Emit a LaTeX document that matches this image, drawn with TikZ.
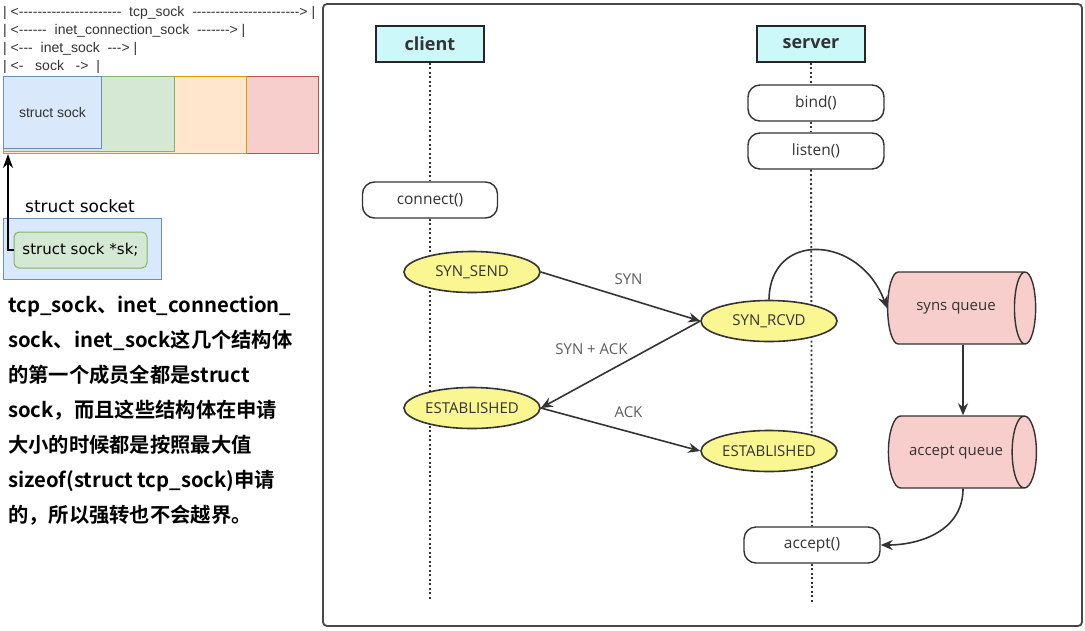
\documentclass[tikz,border=0pt]{standalone}
\usepackage{fontspec}
\setmainfont{Open Sans}
\newfontfamily\cjk{Noto Sans CJK SC}[BoldFont={Noto Sans CJK SC Bold}]
\newfontfamily\arialfont{Liberation Sans}[Ligatures=TeXOff]
\newfontfamily\handfont{DejaVu Sans}
\usepackage{tikz}
\usetikzlibrary{shapes.geometric,arrows.meta,positioning}
\definecolor{mycyan}{RGB}{204,248,250}
\definecolor{myyellow}{RGB}{250,246,145}
\definecolor{mypink}{RGB}{248,206,204}
\definecolor{myredline}{RGB}{184,84,80}
\definecolor{myblue}{RGB}{218,232,252}
\definecolor{myblueline}{RGB}{108,142,191}
\definecolor{mygreen}{RGB}{213,232,212}
\definecolor{mygreenline}{RGB}{130,179,102}
\definecolor{myorange}{RGB}{255,230,204}
\definecolor{myorangeline}{RGB}{215,155,0}
\definecolor{myink}{RGB}{51,51,51}
\tikzstyle{state}=[draw=myink,fill=myyellow,ellipse,line width=1.6pt,minimum width=136pt,minimum height=41pt,inner sep=0pt,text=myink,font=\fontsize{15}{17}\selectfont]
\tikzstyle{call}=[draw=myink,fill=white,rectangle,rounded corners=12pt,line width=1.4pt,minimum width=136pt,minimum height=36pt,inner sep=0pt,text=myink,font=\fontsize{15.5}{17}\selectfont]

\begin{document}
\begin{tikzpicture}[
  x=1pt, y=1pt,
  role/.style={draw=black!85,fill=mycyan,line width=1.6pt,minimum width=108pt,minimum height=36pt,inner sep=0pt,font=\bfseries\fontsize{18}{20}\selectfont,text=myink},
  queue/.style={draw=myink,fill=mypink,cylinder,shape border rotate=0,aspect=1.8,minimum width=72pt,minimum height=148pt,line width=1.4pt,inner sep=0pt,text=myink,font=\fontsize{15}{17}\selectfont},
  lifeline/.style={draw=myink,line width=1.9pt,dash pattern=on 1.9pt off 2.6pt},
  flow/.style={draw=myink,line width=1.6pt,-{Stealth[length=12pt,width=10pt]}},
  msg/.style={text=myink!80,font=\fontsize{15}{17}\selectfont},
  hdr/.style={anchor=west,inner sep=0pt,text=myink,font=\arialfont\fontsize{14}{15}\selectfont},
  blk/.style={anchor=north west,inner sep=0pt,line width=1pt,minimum height=77pt}
]
\useasboundingbox (0,0) rectangle (1085,-630);

% sock layout
\node [hdr] (tcpline) at (3,-13) {|\ <----------------------\ \ tcp\_sock\ \ ----------------------->\ |};
\node [hdr] (iconnline) at (3,-31) {|\ <------\ \ inet\_connection\_sock\ \ ------->\ |};
\node [hdr] (inetline) at (3,-49) {|\ <---\ \ inet\_sock\ \ --->\ |};
\node [hdr] (sockline) at (3,-67) {|\ <-\ \ \ sock\ \ \ ->\ \ |};

\node [blk, draw=myredline, fill=mypink, minimum width=315pt] (tcpblk) at (3,-76) {};
\node [blk, draw=myorangeline, fill=myorange, minimum width=243pt] (iconnblk) at (3,-76) {};
\node [blk, draw=mygreenline, fill=mygreen, minimum width=171pt, minimum height=75pt] (inetblk) at (3,-76) {};
\node [blk, draw=myblueline, fill=myblue, minimum width=98pt, minimum height=72pt, font=\arialfont\fontsize{14}{15}\selectfont, text=myink] (sockblk) at (3,-76) {struct sock};

\node [font=\handfont\fontsize{17}{19}\selectfont] (socket) at (80,-206) {struct socket};
\node [draw=myblueline, fill=myblue, line width=1pt, minimum width=158pt, minimum height=61pt, inner sep=0pt, anchor=north west] (socketblk) at (3,-218) {};
\node [draw=mygreenline, fill=mygreen, line width=1pt, rounded corners=5pt, minimum width=133pt, minimum height=36pt, inner sep=0pt, font=\handfont\fontsize{15}{17}\selectfont] (sk) at (80.5,-250) {struct sock *sk;};
\coordinate (skptr) at (8,-154);
\draw [line width=2pt, -{Stealth[length=14pt,width=10pt]}] (sk.west) -| (skptr);

\node [anchor=north west, align=left, inner sep=0pt, font=\cjk\bfseries\fontsize{20.3}{35}\selectfont] (note) at (8,-296) {tcp\_sock、inet\_connection\_\\sock、inet\_sock这几个结构体\\的第一个成员全都是struct\\sock，而且这些结构体在申请\\大小的时候都是按照最大值\\sizeof(struct tcp\_sock)申请\\的，所以强转也不会越界。};

% handshake
\draw [draw=myink!90, line width=1.8pt, rounded corners=4pt] (323,-4) rectangle (1082,-626);

\node [role] (client) at (430,-44) {client};
\node [role] (server) at (811,-44) {server};

\node [call] (bind) at (816,-103) {bind()};
\node [call] (listen) at (816,-151) {listen()};
\node [call, minimum width=135pt] (connect) at (430,-200) {connect()};
\node [call] (accept) at (812,-545) {accept()};

\coordinate (cend) at (430,-600);
\coordinate (send) at (812,-603);
\draw [lifeline] (client) -- (connect);
\draw [lifeline] (connect) -- (cend);
\draw [lifeline] (server) -- (server |- bind.north);
\draw [lifeline] (server |- bind.south) -- (server |- listen.north);
\draw [lifeline] (server |- listen.south) -- (accept);
\draw [lifeline] (accept) -- (send);

\node [state] (synsend) at (472,-272) {SYN\_SEND};
\node [state] (synrcvd) at (769,-321) {SYN\_RCVD};
\node [state] (estc) at (472,-408) {ESTABLISHED};
\node [state] (ests) at (769,-451) {ESTABLISHED};

\node [queue] (synq) at (956,-308) {syns queue};
\node [queue] (acceptq) at (956,-452) {accept queue};

\draw [flow] (synsend.east) -- (synrcvd.west) node [msg, midway, above=8pt, xshift=8pt] {SYN};
\draw [flow] (synrcvd.west) -- (estc.east) node [msg, midway, xshift=-29pt, yshift=15pt] {SYN + ACK};
\draw [flow] (estc.east) -- (ests.west) node [msg, midway, above=8pt, xshift=8pt] {ACK};

\draw [flow] (synrcvd.north) .. controls (770,-230) and (860,-235) .. (synq.west);
\draw [flow] (synq.south) ++(7,0) coordinate (synqout) (synqout) -- (synqout |- acceptq.north);
\draw [flow] (acceptq.south) ++(7,0) coordinate (acceptqout) (acceptqout) .. controls ++(0,-42) and (920,-545) .. (accept.east);

\end{tikzpicture}
\end{document}
